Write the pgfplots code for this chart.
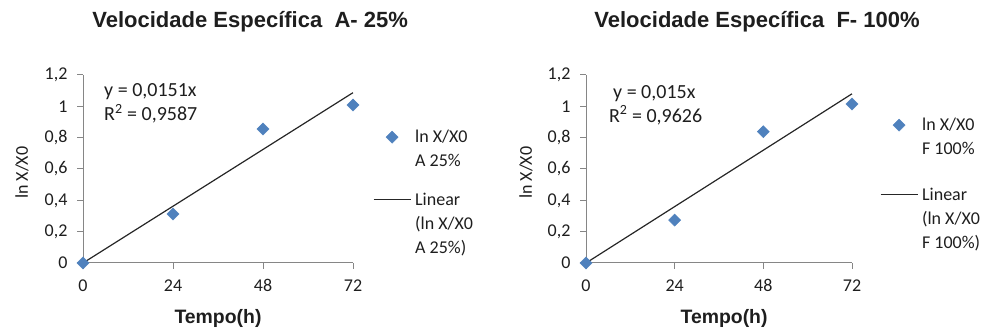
\documentclass[border=0pt]{standalone}
\usepackage{pgfplots}
\pgfplotsset{compat=1.18}
\usepackage{fontspec}
\setmainfont{Carlito}
\newfontfamily\arial{Liberation Sans}
\definecolor{ser}{HTML}{4F81BD}
\definecolor{axgray}{HTML}{868686}
\definecolor{txt}{HTML}{1E1E1E}
\newcommand\cf{\fontsize{18pt}{24pt}\selectfont}
\newcommand\af{\fontsize{20pt}{24pt}\selectfont}
\pgfplotsset{
  myaxis/.style={
    scale only axis, clip=false,
    height=188pt,
    xmin=0, xmax=72, ymin=0, ymax=1.2,
    axis x line*=bottom, axis y line*=left,
    axis line style={draw=axgray, line width=1pt, -},
    xtick={0,24,48,72}, ytick={0,0.2,...,1.2},
    tick align=outside, major tick length=6pt,
    tick style={draw=axgray, line width=1pt},
    /pgf/number format/.cd, use comma, fixed, assume math mode=true, /pgfplots/.cd,
    tick label style={font=\cf, text=txt},
    yticklabel style={xshift=-6pt},
    xticklabel style={yshift=-7pt},
    xlabel={Tempo(h)},
    xlabel style={font=\arial\bfseries\fontsize{19.4pt}{22pt}\selectfont, anchor=base, text=txt},
    ylabel={ln X/X0},
    ylabel style={font=\cf, text=txt, anchor=center, at={(axis description cs:-0.226,0.48)}},
    title style={font=\arial\bfseries\fontsize{22pt}{24pt}\selectfont, anchor=base, text=txt},
    legend style={draw=none, fill=none, inner sep=0pt, outer sep=0pt, anchor=north west,
      cells={anchor=base west}, nodes={inner sep=0pt, text depth=, text=txt, font=\cf}, column sep=4pt},
  },
  tline/.style={draw=black!85, line width=1.2pt,
    legend image code/.code={\draw[##1] (0pt,5.6pt) -- (37pt,5.6pt);}},
  dmark/.style={only marks, mark=square*, mark size=4.3pt,
    mark options={rotate=45, fill=ser, draw=ser},
    legend image code/.code={\draw[mark repeat=2,mark phase=2,##1] plot coordinates {(0pt,5.6pt)(18.5pt,5.6pt)(37pt,5.6pt)};}},
}
\newcommand\mlii[2]{\vtop{\baselineskip=24pt\lineskiplimit=-1000pt\hbox{#1}\hbox{#2}}}
\newcommand\mliii[3]{\vtop{\baselineskip=24pt\lineskiplimit=-1000pt\hbox{#1}\hbox{#2}\hbox{#3}}}
\begin{document}
\begin{tikzpicture}
\useasboundingbox (0,0) rectangle (987pt,329pt);
\begin{axis}[myaxis, at={(83pt,66pt)}, anchor=south west, width=270pt,
  title={Velocidade Específica\ \ A- 25\%},
  title style={at={(axis description cs:0.619,1.223)}},
  xlabel style={at={(axis description cs:0.5,-0.324)}},
  legend style={at={(axis description cs:1.074,0.706)}, row sep=26pt}]
\addplot[dmark] coordinates {(0,0) (24,0.313) (48,0.855) (72,1.008)};
\addlegendentry{\mlii{ln X/X0}{A 25\%}}
\addplot[tline] coordinates {(0,0) (72,1.0872)};
\addlegendentry{\mliii{Linear}{(ln X/X0}{A 25\%)}}
\node[anchor=base west, font=\af, text=txt, inner sep=0pt] at (axis cs:5.6,1.062) {y = 0,0151x};
\node[anchor=base west, font=\af, text=txt, inner sep=0pt] at (axis cs:5.6,0.909) {R\textsuperscript{2} = 0,9587};
\end{axis}
\begin{axis}[myaxis, at={(586pt,66pt)}, anchor=south west, width=266pt,
  title={Velocidade Específica\ \ F- 100\%},
  title style={at={(axis description cs:0.643,1.223)}},
  xlabel style={at={(axis description cs:0.519,-0.324)}},
  legend style={at={(axis description cs:1.105,0.770)}, row sep=33pt}]
\addplot[dmark] coordinates {(0,0) (24,0.274) (48,0.838) (72,1.015)};
\addlegendentry{\mlii{ln X/X0}{F 100\%}}
\addplot[tline] coordinates {(0,0) (72,1.08)};
\addlegendentry{\mliii{Linear}{(ln X/X0}{F 100\%)}}
\node[anchor=base west, font=\af, text=txt, inner sep=0pt] at (axis cs:7.3,1.051) {y = 0,015x};
\node[anchor=base west, font=\af, text=txt, inner sep=0pt] at (axis cs:6.2,0.898) {R\textsuperscript{2} = 0,9626};
\end{axis}
\end{tikzpicture}
\end{document}
